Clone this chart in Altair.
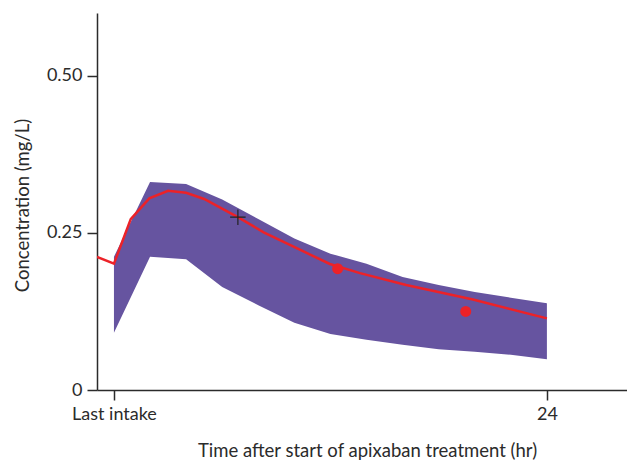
import altair as alt
import pandas as pd

# Prediction band (hours after last intake, mg/L)
band_t = [0, 2, 4, 6, 8, 10, 12, 14, 16, 18, 20, 22, 24]
band_hi = [0.212, 0.331, 0.328, 0.303, 0.272, 0.241, 0.217, 0.201, 0.180, 0.167, 0.156, 0.147, 0.138]
band_lo = [0.091, 0.212, 0.208, 0.164, 0.135, 0.107, 0.089, 0.080, 0.072, 0.065, 0.061, 0.056, 0.049]

# Model-predicted curve
line_t = [-0.94, 0, 0.93, 1.96, 3, 4, 5, 6.43, 6.87, 8.3, 10.13, 11.97, 13.64, 16.2, 19.9, 24]
line_c = [0.212, 0.201, 0.272, 0.305, 0.317, 0.314, 0.304, 0.282, 0.275, 0.251, 0.2256, 0.2006, 0.186, 0.167, 0.144, 0.114]

# Observed concentrations
obs_t = [12.4, 19.5]
obs_c = [0.193, 0.125]

# Cross marker
cross_t = [6.87]
cross_c = [0.275]

x_ticks = [0, 24]
y_ticks = [0, 0.25, 0.5]

band_df = pd.DataFrame({"t": band_t, "hi": band_hi, "lo": band_lo})
line_df = pd.DataFrame({"t": line_t, "c": line_c})
obs_df = pd.DataFrame({"t": obs_t, "c": obs_c})
cross_df = pd.DataFrame({"t": cross_t, "c": cross_c})

FONT = "Lato"
TXT = "#2b2b2b"

xscale = alt.Scale(domain=[-0.94, 28.44], nice=False, zero=False)
yscale = alt.Scale(domain=[0, 0.6], nice=False)

xaxis = alt.Axis(
    values=x_ticks,
    labelExpr="datum.value == 0 ? 'Last intake' : '24'",
    title="Time after start of apixaban treatment (hr)",
    grid=False, tickSize=10, labelPadding=5, labelFontSize=18, labelColor=TXT,
    titleFontSize=18.5, titleFontWeight="normal", titleColor=TXT,
    titleX=270, titleY=60, titleBaseline="middle", titleAnchor="middle", titleAlign="center",
    domainColor=TXT, tickColor=TXT, domainWidth=1.5, tickWidth=1.5,
    labelFont=FONT, titleFont=FONT, labelFlush=False,
)
yaxis = alt.Axis(
    values=y_ticks,
    labelExpr="datum.value == 0 ? '0' : format(datum.value, '.2f')",
    title="Concentration (mg/L)",
    grid=False, tickSize=10, labelPadding=5, labelFontSize=18, labelColor=TXT,
    titleFontSize=18.5, titleFontWeight="normal", titleColor=TXT,
    titleX=-75, titleY=192, titleBaseline="middle", titleAlign="center", titleAngle=-90,
    domainColor=TXT, tickColor=TXT, domainWidth=1.5, tickWidth=1.5,
    labelFont=FONT, titleFont=FONT, labelFlush=False,
)

band = alt.Chart(band_df).mark_area(color="#6654a0", opacity=1).encode(
    x=alt.X("t:Q", scale=xscale, axis=xaxis),
    y=alt.Y("hi:Q", scale=yscale, axis=yaxis),
    y2="lo:Q",
)

line = alt.Chart(line_df).mark_line(color="#ec2228", strokeWidth=2.5, clip=True).encode(
    x=alt.X("t:Q", scale=xscale),
    y=alt.Y("c:Q", scale=yscale),
)

pts = alt.Chart(obs_df).mark_point(filled=True, color="#ec2228", size=120, opacity=1).encode(
    x=alt.X("t:Q", scale=xscale),
    y=alt.Y("c:Q", scale=yscale),
)

cross = alt.Chart(cross_df).mark_point(
    shape="M-1,0L1,0M0,-1L0,1", filled=False, color="#222222", strokeWidth=1.2, size=240, opacity=1
).encode(
    x=alt.X("t:Q", scale=xscale),
    y=alt.Y("c:Q", scale=yscale),
)

chart = alt.layer(band, line, pts, cross).properties(
    width=530, height=377,
    autosize=alt.AutoSizeParams(type="none"),
    padding={"left": 89, "top": 5, "right": 0, "bottom": 72},
).configure_view(stroke=None)

chart.save("out.html", embed_options={"renderer": "svg", "actions": False})
